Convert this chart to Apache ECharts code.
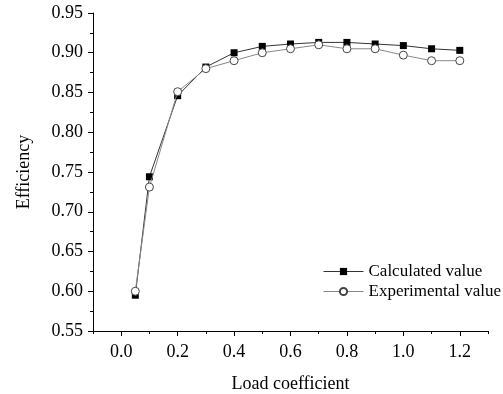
<!DOCTYPE html>
<html>
<head>
<meta charset="utf-8">
<script src="https://cdn.jsdelivr.net/npm/echarts@6/dist/echarts.min.js"></script>
<style>
  html, body { margin: 0; padding: 0; background: #fff; }
  #chart { width: 503px; height: 394px; }
</style>
</head>
<body>
<div id="chart"></div>
<script>
const loadCoef = [0.05, 0.1, 0.2, 0.3, 0.4, 0.5, 0.6, 0.7, 0.8, 0.9, 1.0, 1.1, 1.2];
const calculated = [0.595, 0.744, 0.846, 0.882, 0.900, 0.908, 0.911, 0.913, 0.913, 0.911, 0.909, 0.905, 0.903];
const experimental = [0.600, 0.731, 0.851, 0.880, 0.890, 0.900, 0.905, 0.910, 0.905, 0.905, 0.897, 0.890, 0.890];
const xLabels = [0.0, 0.2, 0.4, 0.6, 0.8, 1.0, 1.2];

const font = 'Liberation Serif';
const pairs = (ys) => loadCoef.map((x, i) => [x, ys[i]]);

const chart = echarts.init(document.getElementById('chart'));
chart.setOption({
  animation: false,
  textStyle: { fontFamily: font, color: '#000' },
  grid: { left: 93, right: 15, top: 13, bottom: 63, outerBoundsMode: 'none' },
  legend: {
    left: 318, top: 258, orient: 'vertical', itemGap: 3, itemWidth: 40, itemHeight: 9,
    textStyle: { fontFamily: font, fontSize: 17, color: '#000' },
    lineStyle: { width: 1 },
    data: ['Calculated value', 'Experimental value']
  },
  xAxis: [{
    type: 'value', min: -0.1, max: 1.3, interval: 0.1,
    name: 'Load coefficient', nameLocation: 'middle', nameGap: 44,
    nameTextStyle: { fontFamily: font, fontSize: 18, color: '#000' },
    axisLine: { onZero: false, lineStyle: { color: '#000', width: 1 } },
    axisTick: { length: 3, lineStyle: { color: '#000' } },
    axisLabel: {
      customValues: xLabels, fontFamily: font, fontSize: 18, color: '#000', margin: 12,
      formatter: (v) => v.toFixed(1)
    },
    splitLine: { show: false }
  }, {
    type: 'value', min: -0.1, max: 1.3, position: 'bottom',
    axisLine: { show: false, onZero: false },
    axisTick: { show: true, customValues: xLabels, length: 5, lineStyle: { color: '#000' } },
    axisLabel: { show: false },
    splitLine: { show: false }
  }],
  yAxis: {
    type: 'value', min: 0.55, max: 0.95, interval: 0.05,
    name: 'Efficiency', nameLocation: 'middle', nameGap: 60,
    nameTextStyle: { fontFamily: font, fontSize: 18, color: '#000' },
    axisLine: { show: true, onZero: false, lineStyle: { color: '#000', width: 1 } },
    axisTick: { show: true, length: 5, lineStyle: { color: '#000' } },
    minorTick: { show: true, splitNumber: 2, length: 3, lineStyle: { color: '#000' } },
    axisLabel: { fontFamily: font, fontSize: 18, color: '#000', margin: 10, formatter: (v) => v.toFixed(2) },
    splitLine: { show: false }
  },
  series: [{
    name: 'Calculated value', type: 'line', data: pairs(calculated),
    symbol: 'rect', symbolSize: 7, z: 2,
    lineStyle: { color: '#333', width: 1 },
    itemStyle: { color: '#000', borderColor: '#000', borderWidth: 0 }
  }, {
    name: 'Experimental value', type: 'line', data: pairs(experimental),
    symbol: 'circle', symbolSize: 8, z: 3,
    lineStyle: { color: '#888', width: 1 },
    itemStyle: { color: '#fff', borderColor: '#444', borderWidth: 1 }
  }]
});
</script>
</body>
</html>
